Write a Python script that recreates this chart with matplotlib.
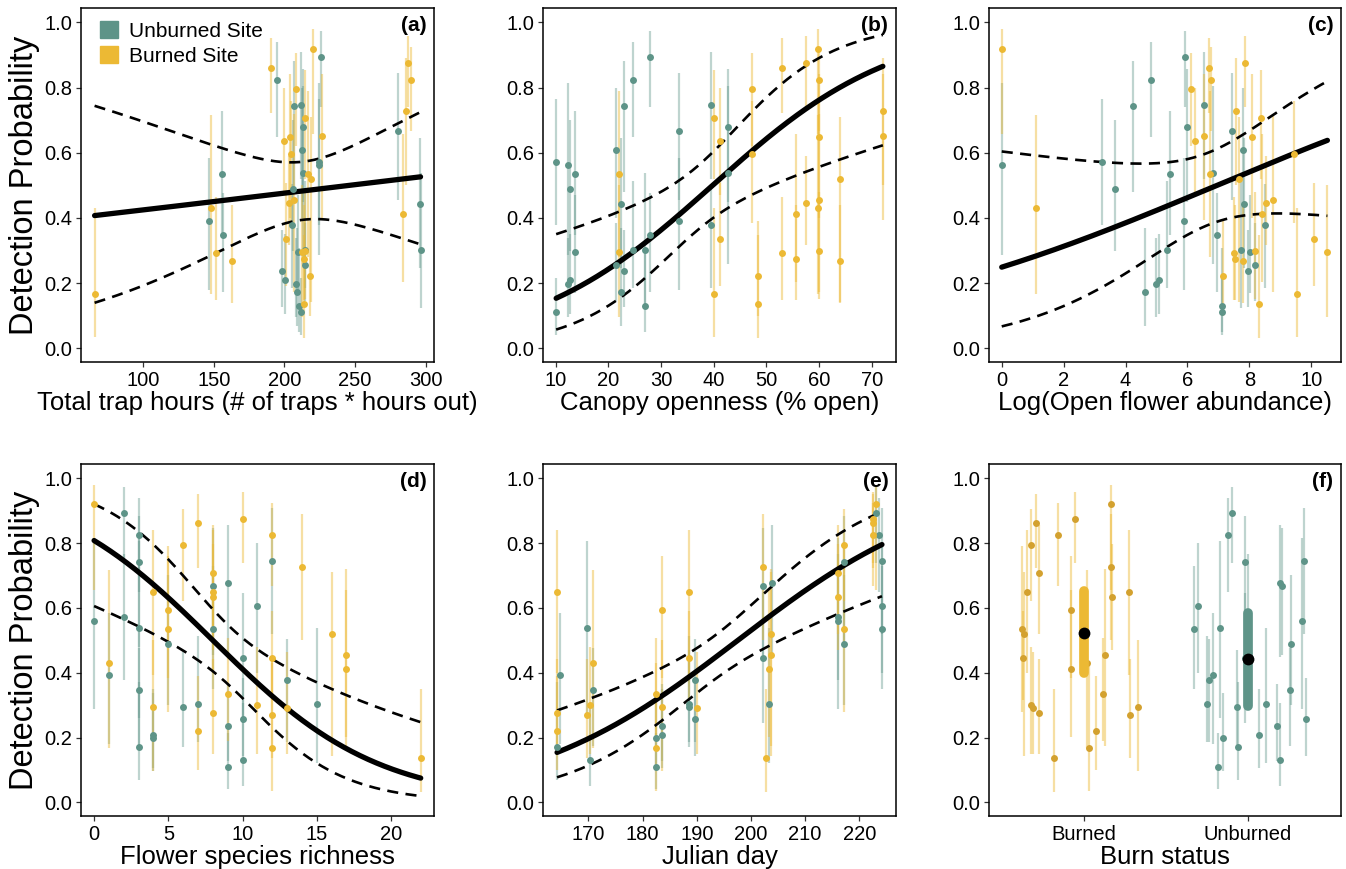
import numpy as np
import matplotlib
matplotlib.use('Agg')
import matplotlib.pyplot as plt
from matplotlib.patches import Patch

plt.rcParams['font.family'] = ['Liberation Sans', 'DejaVu Sans']

teal = '#5e9488'
gold = '#ecb934'
gold_dark = '#d3a12f'

# site-visit detection probabilities with 95% CIs
burned_p = [0.137, 0.168, 0.221, 0.269, 0.275, 0.291, 0.295, 0.300, 0.335, 0.411, 0.431, 0.445, 0.454,
            0.520, 0.535, 0.595, 0.635, 0.649, 0.650, 0.707, 0.727, 0.795, 0.824, 0.861, 0.875, 0.919]
burned_lo = [0.031, 0.036, 0.100, 0.138, 0.149, 0.148, 0.097, 0.150, 0.190, 0.203, 0.168, 0.317, 0.174,
             0.143, 0.280, 0.384, 0.470, 0.400, 0.394, 0.520, 0.500, 0.620, 0.666, 0.722, 0.740, 0.656]
burned_hi = [0.349, 0.430, 0.390, 0.441, 0.441, 0.465, 0.500, 0.480, 0.508, 0.656, 0.717, 0.589, 0.720,
             0.711, 0.790, 0.760, 0.798, 0.840, 0.840, 0.855, 0.890, 0.906, 0.925, 0.952, 0.957, 0.980]

unburned_p = [0.110, 0.130, 0.172, 0.198, 0.209, 0.236, 0.256, 0.295, 0.302, 0.302, 0.347, 0.377, 0.392,
              0.444, 0.490, 0.534, 0.539, 0.561, 0.573, 0.607, 0.667, 0.678, 0.743, 0.745, 0.824, 0.894]
unburned_lo = [0.041, 0.051, 0.070, 0.097, 0.105, 0.128, 0.144, 0.170, 0.185, 0.123, 0.174, 0.185, 0.180,
               0.246, 0.300, 0.349, 0.260, 0.287, 0.379, 0.400, 0.456, 0.450, 0.480, 0.520, 0.648, 0.740]
unburned_hi = [0.215, 0.307, 0.370, 0.338, 0.350, 0.364, 0.385, 0.470, 0.513, 0.538, 0.477, 0.503, 0.585,
               0.646, 0.700, 0.728, 0.805, 0.815, 0.766, 0.800, 0.846, 0.856, 0.882, 0.908, 0.939, 0.972]

# covariates for each visit
trap_hours_b = [213.9, 65.6, 218, 162.7, 213.9, 151.6, 212.5, 214.6, 201.2, 284, 148, 203.3, 206.8,
                218.6, 216.5, 204.7, 199.8, 204.2, 226.9, 214.9, 286, 208.3, 289.9, 190.6, 287.3, 220.5]
trap_hours_u = [212, 210.1, 208.7, 208.3, 200.5, 198.3, 214.6, 209.7, 214.9, 296.4, 156.6, 205.2, 146.5,
                296, 206.1, 155.7, 213, 224.8, 224.8, 212.7, 280.4, 213, 206.8, 211.8, 195, 225.7]

canopy_b = [48.4, 40.1, 48.4, 64, 55.6, 52.9, 22.1, 59.9, 41.2, 55.6, 59.7, 57.5, 59.9,
            64, 22.1, 47.3, 41.2, 59.9, 72.1, 40.1, 72.1, 47.3, 59.9, 52.9, 57.5, 59.7]
canopy_u = [10.1, 27, 22.5, 12.3, 12.7, 23, 21.5, 13.7, 24.6, 27, 28, 39.4, 33.4,
            22.5, 12.7, 13.7, 42.8, 12.3, 10.1, 21.5, 33.4, 42.8, 23, 39.4, 24.6, 28]

log_flowers_b = [8.3, 9.55, 7.14, 7.78, 7.53, 7.51, 10.52, 8.17, 10.08, 8.4, 1.11, 8.54, 8.76,
                 7.66, 6.73, 9.44, 6.23, 8.09, 6.53, 8.38, 7.56, 6.12, 6.77, 6.69, 7.86, 0.0]
log_flowers_u = [7.13, 7.13, 4.62, 4.99, 5.08, 7.96, 8.17, 8.01, 5.35, 7.74, 6.96, 8.52, 5.89,
                 7.83, 3.65, 5.42, 6.82, 0.0, 3.25, 7.8, 7.44, 6.0, 4.25, 6.52, 4.82, 5.91]

richness_b = [22, 12, 7, 12, 8, 13, 4, 11, 9, 17, 1, 12, 17, 16, 5, 5, 8, 8, 4, 8, 14, 6, 12, 7, 10, 0]
richness_u = [9, 10, 3, 4, 4, 9, 10, 6, 7, 15, 3, 13, 1, 10, 5, 8, 3, 0, 2, 11, 8, 9, 3, 12, 3, 2]

julian_b = [202.8, 182.5, 164.2, 169.8, 164.2, 190.1, 183.5, 170.3, 182.5, 203.4, 170.8, 188.6, 203.8,
            203.8, 217.1, 183.5, 216, 164.2, 188.6, 216, 202.3, 217.1, 222.6, 222.6, 222.6, 223.1]
julian_u = [182.5, 170.3, 164.2, 182.5, 183.5, 183.5, 189.6, 188.6, 188.6, 203.3, 170.8, 189.6, 164.7,
            202.3, 217.1, 224.2, 169.8, 216, 216, 224.2, 202.3, 203.9, 217.1, 224.2, 223.6, 223.1]

# horizontal jitter for the burn status panel
jitter_b = [-0.182, 0.033, 0.074, 0.281, -0.275, -0.311, 0.33, -0.322, 0.119, -0.078, 0.02, -0.373, 0.127,
            -0.369, -0.379, -0.082, 0.174, -0.346, 0.273, -0.273, 0.162, -0.322, -0.158, -0.291, -0.057, 0.166]
jitter_u = [-0.184, 0.199, -0.057, -0.148, 0.068, 0.176, 0.357, -0.066, -0.248, 0.109, 0.256, -0.238, -0.211,
            -0.018, 0.264, -0.330, -0.170, 0.330, 0.0, -0.303, 0.209, 0.195, -0.016, 0.346, -0.119, -0.094]

# logit-scale model fits on centred covariates: centre, intercept, slope, se(intercept), se(slope)
fit_trap = (213.4, -0.068, 0.00208, 0.184, 0.00482)
fit_canopy = (37.3, -0.143, 0.0575, 0.204, 0.0190)
fit_flowers = (6.7, -0.040, 0.1588, 0.230, 0.1110)
fit_richness = (9.0, -0.180, -0.1795, 0.190, 0.0530)
fit_julian = (193.7, -0.198, 0.051, 0.140, 0.01256)

# burn status estimates: mean, lower, upper
status_labels = ['Burned', 'Unburned']
status_mean = [0.523, 0.441]
status_lo = [0.398, 0.297]
status_hi = [0.651, 0.585]

ytick_vals = [0.0, 0.2, 0.4, 0.6, 0.8, 1.0]


def expit(v):
    return 1 / (1 + np.exp(-v))


def style_axes(ax, letter):
    ax.set_ylim(-0.042, 1.044)
    ax.set_yticks(ytick_vals)
    ax.set_yticklabels(['%.1f' % v for v in ytick_vals])
    ax.tick_params(labelsize=14.5, length=3.5, width=0.9, pad=3, color='#333333')
    for s in ax.spines.values():
        s.set_linewidth(1.1)
    ax.text(0.978, 0.978, letter, transform=ax.transAxes, ha='right', va='top',
            fontsize=15, fontweight='bold')


def site_points(ax, xb, xu, pt_b=gold, pt_u=teal):
    ax.vlines(xu, unburned_lo, unburned_hi, color=teal, alpha=0.4, lw=1.6, zorder=1)
    ax.vlines(xb, burned_lo, burned_hi, color=gold, alpha=0.45, lw=1.6, zorder=1)
    ax.plot(xu, unburned_p, 'o', color=pt_u, ms=5, mew=0, zorder=4)
    ax.plot(xb, burned_p, 'o', color=pt_b, ms=5, mew=0, zorder=4)


def model_curve(ax, xb, xu, fit):
    c, a, b, sa, sb = fit
    lo = min(min(xb), min(xu))
    hi = max(max(xb), max(xu))
    xs = np.linspace(lo, hi, 200)
    eta = a + b * (xs - c)
    se = np.sqrt(sa ** 2 + (xs - c) ** 2 * sb ** 2)
    ax.plot(xs, expit(eta), color='black', lw=3.8, solid_capstyle='round', zorder=3)
    ax.plot(xs, expit(eta + 1.96 * se), color='black', lw=1.9, dashes=(4.2, 2.8), zorder=3)
    ax.plot(xs, expit(eta - 1.96 * se), color='black', lw=1.9, dashes=(4.2, 2.8), zorder=3)


fig = plt.figure(figsize=(13.46, 8.69), dpi=100)

lefts = [0.0602, 0.4034, 0.7348]
widths = [0.2623, 0.2623, 0.2615]
top_b, top_h = 0.5834, 0.4074
bot_b, bot_h = 0.0610, 0.4051

ax_a = fig.add_axes([lefts[0], top_b, widths[0], top_h])
ax_b = fig.add_axes([lefts[1], top_b, widths[1], top_h])
ax_c = fig.add_axes([lefts[2], top_b, widths[2], top_h])
ax_d = fig.add_axes([lefts[0], bot_b, widths[0], bot_h])
ax_e = fig.add_axes([lefts[1], bot_b, widths[1], bot_h])
ax_f = fig.add_axes([lefts[2], bot_b, widths[2], bot_h])

# (a) trap effort
site_points(ax_a, trap_hours_b, trap_hours_u)
model_curve(ax_a, trap_hours_b, trap_hours_u, fit_trap)
ax_a.set_xlim(56, 306)
ax_a.set_xticks([100, 150, 200, 250, 300])
style_axes(ax_a, '(a)')
ax_a.set_xlabel('Total trap hours (# of traps * hours out)', fontsize=18.5, labelpad=1)
ax_a.set_ylabel('Detection Probability', fontsize=23.5, labelpad=3)
ax_a.legend(handles=[Patch(color=teal, label='Unburned Site'), Patch(color=gold, label='Burned Site')],
            loc='upper left', bbox_to_anchor=(0.055, 0.962), frameon=False, fontsize=15,
            handlelength=0.85, handleheight=0.85, handletextpad=0.5, labelspacing=0.25,
            borderpad=0, borderaxespad=0)

# (b) canopy openness
site_points(ax_b, canopy_b, canopy_u)
model_curve(ax_b, canopy_b, canopy_u, fit_canopy)
ax_b.set_xlim(7.6, 74.6)
ax_b.set_xticks([10, 20, 30, 40, 50, 60, 70])
style_axes(ax_b, '(b)')
ax_b.set_xlabel('Canopy openness (% open)', fontsize=18.5, labelpad=1)

# (c) flower abundance
site_points(ax_c, log_flowers_b, log_flowers_u)
model_curve(ax_c, log_flowers_b, log_flowers_u, fit_flowers)
ax_c.set_xlim(-0.41, 10.96)
ax_c.set_xticks([0, 2, 4, 6, 8, 10])
style_axes(ax_c, '(c)')
ax_c.set_xlabel('Log(Open flower abundance)', fontsize=18.5, labelpad=1)

# (d) flower richness
site_points(ax_d, richness_b, richness_u)
model_curve(ax_d, richness_b, richness_u, fit_richness)
ax_d.set_xlim(-0.88, 22.9)
ax_d.set_xticks([0, 5, 10, 15, 20])
style_axes(ax_d, '(d)')
ax_d.set_xlabel('Flower species richness', fontsize=18.5, labelpad=1)
ax_d.set_ylabel('Detection Probability', fontsize=23.5, labelpad=3)

# (e) julian day
site_points(ax_e, julian_b, julian_u)
model_curve(ax_e, julian_b, julian_u, fit_julian)
ax_e.set_xlim(161.6, 226.8)
ax_e.set_xticks([170, 180, 190, 200, 210, 220])
style_axes(ax_e, '(e)')
ax_e.set_xlabel('Julian day', fontsize=18.5, labelpad=1)

# (f) burn status
xb_f = [1 + j for j in jitter_b]
xu_f = [2 + j for j in jitter_u]
site_points(ax_f, xb_f, xu_f, pt_b=gold_dark)
for i, col in enumerate([gold, teal]):
    ax_f.plot([i + 1, i + 1], [status_lo[i], status_hi[i]], color=col, lw=7,
              solid_capstyle='round', zorder=5)
    ax_f.plot(i + 1, status_mean[i], 'o', color='black', ms=8.5, mew=0, zorder=6)
ax_f.set_xlim(0.42, 2.57)
ax_f.set_xticks([1, 2])
ax_f.set_xticklabels(status_labels)
style_axes(ax_f, '(f)')
ax_f.set_xlabel('Burn status', fontsize=18.5, labelpad=1)

fig.savefig('out.png', dpi=100)
